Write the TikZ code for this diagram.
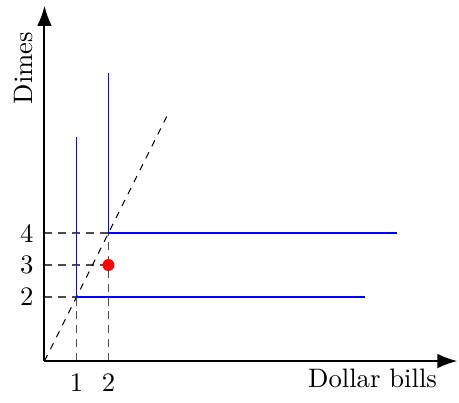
\documentclass[tikz,border=0pt]{standalone}
\usetikzlibrary{arrows.meta}
\begin{document}
\begin{tikzpicture}[x=12pt,y=12pt,
  axis/.style={line width=0.75pt,-{Latex[length=7.5pt,width=5.5pt]}},
  blueline/.style={blue,line width=0.6pt},
  guide/.style={black!70,line width=0.5pt,dash pattern=on 3pt off 2.2pt},
  diag/.style={black,line width=0.4pt,dash pattern=on 2.5pt off 2.5pt},
  reddot/.style={circle,fill=red,inner sep=0pt,minimum size=4.5pt},
  lbl/.style={font=\normalsize}]
\useasboundingbox (-1.39,-1.28) rectangle (12.95,11.28);
\coordinate (O) at (0,0);
\coordinate (xe) at (12.9,0);
\coordinate (ye) at (0,11.1);
% guides
\coordinate (x1) at (1,0);
\coordinate (x2) at (2,0);
\coordinate (y2) at (0,2);
\coordinate (y3) at (0,3);
\coordinate (y4) at (0,4);
\coordinate (A) at (1,2);
\coordinate (B) at (2,4);
\coordinate (P) at (2,3);
\draw[guide] (x1) -- (A);
\draw[guide] (x2) -- (B);
\draw[guide] (y2) -- (A);
\draw[guide] (y3) -- (P);
\draw[guide] (y4) -- (B);
% diagonal
\coordinate (D) at (3.9,7.8);
\draw[diag] (O) -- (D);
% blue L shapes
\coordinate (A1) at (1,7);
\coordinate (A2) at (10,2);
\coordinate (B1) at (2,9);
\coordinate (B2) at (11,4);
\draw[blueline] (A1) -- (A) -- (A2);
\draw[blueline] (B1) -- (B) -- (B2);
% axes
\draw[axis] (O) -- (xe);
\draw[axis] (O) -- (ye);
% red point
\node[reddot] (pt) at (P) {};
% labels
\node[lbl] (l1) at (1,-0.68) {1};
\node[lbl] (l2) at (2,-0.68) {2};
\node[lbl] (m2) at (-0.55,2) {2};
\node[lbl] (m3) at (-0.55,3) {3};
\node[lbl] (m4) at (-0.55,4) {4};
\node[lbl,rotate=90] (dimes) at (-0.67,9.15) {Dimes};
\node[lbl] (dollar) at (10.25,-0.55) {Dollar bills};
\end{tikzpicture}
\end{document}
